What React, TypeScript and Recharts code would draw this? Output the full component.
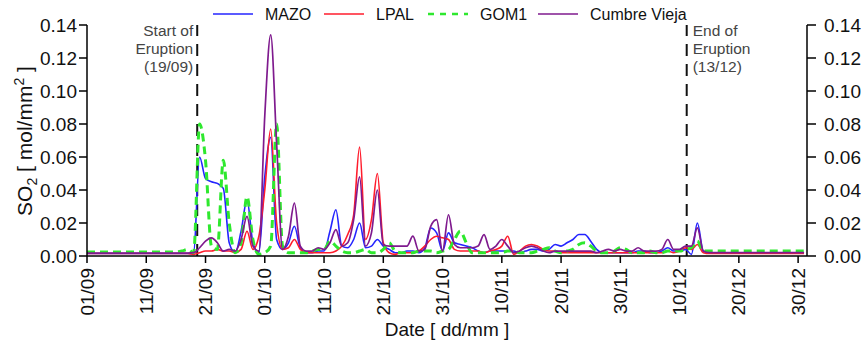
import { LineChart, Line, XAxis, YAxis, ReferenceLine } from "recharts";

// daily values, index 0 = 01/09
const MAZO = [
  0.0015, 0.0015, 0.0015, 0.0015, 0.0015, 0.0015, 0.0015, 0.0015, 0.0015, 0.0015,
  0.0015, 0.0015, 0.0015, 0.0015, 0.0015, 0.0015, 0.0015, 0.0015, 0.002, 0.06,
  0.047, 0.045, 0.044, 0.041, 0.008, 0.002, 0.015, 0.034, 0.008, 0.002,
  0.048, 0.072, 0.01, 0.004, 0.008, 0.018, 0.005, 0.002, 0.002, 0.003,
  0.003, 0.015, 0.028, 0.006, 0.005, 0.01, 0.02, 0.005, 0.006, 0.01,
  0.006, 0.004, 0.002, 0.002, 0.003, 0.003, 0.002, 0.005, 0.017, 0.014,
  0.003, 0.014, 0.008, 0.007, 0.006, 0.005, 0.003, 0.002, 0.003, 0.003,
  0.003, 0.003, 0.003, 0.002, 0.003, 0.004, 0.004, 0.003, 0.004, 0.007,
  0.006, 0.008, 0.01, 0.013, 0.013, 0.009, 0.004, 0.002, 0.002, 0.002,
  0.002, 0.002, 0.002, 0.003, 0.003, 0.002, 0.002, 0.003, 0.005, 0.003,
  0.003, 0.004, 0.001, 0.02, 0.003, 0.002, 0.002, 0.002, 0.002, 0.002,
  0.002, 0.002, 0.002, 0.002, 0.002, 0.002, 0.002, 0.002, 0.002, 0.002,
  0.002, 0.002,
];

const LPAL = [
  0.0015, 0.0015, 0.0015, 0.0015, 0.0015, 0.0015, 0.0015, 0.0015, 0.0015, 0.0015,
  0.0015, 0.0015, 0.0015, 0.0015, 0.0015, 0.0015, 0.0015, 0.0015, 0.001, 0.002,
  0.003, 0.003, 0.004, 0.003, 0.003, 0.002, 0.004, 0.015, 0.004, 0.012,
  0.04, 0.077, 0.02, 0.004, 0.005, 0.01, 0.004, 0.002, 0.002, 0.002,
  0.002, 0.002, 0.003, 0.006, 0.013, 0.025, 0.066, 0.01, 0.022, 0.05,
  0.008, 0.002, 0.001, 0.002, 0.002, 0.002, 0.003, 0.006, 0.01, 0.012,
  0.011, 0.01, 0.004, 0.003, 0.003, 0.003, 0.003, 0.002, 0.003, 0.004,
  0.006, 0.012, 0.001, 0.003, 0.006, 0.007, 0.006, 0.004, 0.003, 0.003,
  0.002, 0.002, 0.002, 0.002, 0.002, 0.002, 0.002, 0.002, 0.002, 0.002,
  0.002, 0.002, 0.002, 0.002, 0.002, 0.002, 0.002, 0.002, 0.003, 0.002,
  0.003, 0.005, 0.004, 0.007, 0.002, 0.0015, 0.0015, 0.0015, 0.0015, 0.0015,
  0.0015, 0.0015, 0.0015, 0.0015, 0.0015, 0.0015, 0.0015, 0.0015, 0.0015, 0.0015,
  0.0015, 0.0015,
];

const GOM1 = [
  0.0025, 0.0025, 0.0025, 0.0025, 0.0025, 0.0025, 0.0025, 0.0025, 0.0025, 0.0025,
  0.0025, 0.0025, 0.0025, 0.0025, 0.0025, 0.0025, 0.003, 0.004, 0.002, 0.08,
  0.058, 0.006, 0.004, 0.058, 0.02, 0.002, 0.008, 0.036, 0.01, 0.001,
  0.002, 0.006, 0.08, 0.006, 0.002, 0.002, 0.002, 0.002, 0.003, 0.004,
  0.004, 0.009, 0.006, 0.003, 0.002, 0.002, 0.003, 0.004, 0.002, 0.002,
  0.004, 0.008, 0.003, 0.002, 0.002, 0.002, 0.003, 0.003, 0.003, 0.002,
  0.003, 0.004, 0.01, 0.015, 0.008, 0.002, 0.002, 0.002, 0.002, 0.002,
  0.002, 0.003, 0.003, 0.002, 0.002, 0.002, 0.003, 0.004, 0.005, 0.003,
  0.002, 0.003, 0.004, 0.007, 0.008, 0.006, 0.003, 0.002, 0.002, 0.003,
  0.005, 0.004, 0.002, 0.002, 0.002, 0.003, 0.002, 0.002, 0.003, 0.003,
  0.003, 0.004, 0.005, 0.009, 0.003, 0.003, 0.003, 0.003, 0.003, 0.003,
  0.003, 0.003, 0.003, 0.003, 0.003, 0.003, 0.003, 0.003, 0.003, 0.003,
  0.003, 0.003,
];

const CUMBRE_VIEJA = [
  0.0018, 0.0018, 0.0018, 0.0018, 0.0018, 0.0018, 0.0018, 0.0018, 0.0018, 0.0018,
  0.0018, 0.0018, 0.0018, 0.0018, 0.0018, 0.0018, 0.0018, 0.0018, 0.002, 0.005,
  0.009, 0.011, 0.008, 0.003, 0.004, 0.003, 0.01, 0.024, 0.006, 0.003,
  0.085, 0.134, 0.068, 0.004, 0.012, 0.032, 0.006, 0.003, 0.003, 0.005,
  0.004, 0.008, 0.016, 0.006, 0.008, 0.022, 0.048, 0.006, 0.014, 0.04,
  0.007, 0.006, 0.006, 0.006, 0.006, 0.012, 0.003, 0.004, 0.018, 0.022,
  0.003, 0.025, 0.007, 0.005, 0.005, 0.005, 0.006, 0.013, 0.004, 0.006,
  0.01, 0.006, 0.002, 0.003, 0.005, 0.006, 0.005, 0.003, 0.002, 0.003,
  0.003, 0.003, 0.003, 0.003, 0.003, 0.003, 0.002, 0.003, 0.004, 0.003,
  0.004, 0.003, 0.003, 0.005, 0.003, 0.003, 0.003, 0.004, 0.01, 0.004,
  0.004, 0.006, 0.006, 0.017, 0.003, 0.002, 0.002, 0.002, 0.002, 0.002,
  0.002, 0.002, 0.002, 0.002, 0.002, 0.002, 0.002, 0.002, 0.002, 0.002,
  0.002, 0.002,
];

const TICK_DAYS = [0, 10, 20, 30, 40, 50, 60, 70, 80, 90, 100, 110, 120];
const TICK_LABELS = ["01/09", "11/09", "21/09", "01/10", "11/10", "21/10", "31/10", "10/11", "20/11", "30/11", "10/12", "20/12", "30/12"];
const Y_TICKS = [0, 0.02, 0.04, 0.06, 0.08, 0.1, 0.12, 0.14];

const START_DAY = 18.6;
const END_DAY = 101.2;
const START_TEXT = ["Start of", "Eruption", "(19/09)"];
const END_TEXT = ["End of", "Eruption", "(13/12)"];

// both y axes share the same 0..0.14 scale, Cumbre Vieja is bound to the right one
const SERIES = [
  { key: "MAZO", name: "MAZO", values: MAZO, color: "#2424ff", width: 1.6, dash: undefined as string | undefined, axis: "left" },
  { key: "LPAL", name: "LPAL", values: LPAL, color: "#ff1c2c", width: 1.6, dash: undefined, axis: "left" },
  { key: "GOM1", name: "GOM1", values: GOM1, color: "#2ee82e", width: 3, dash: "8 5", axis: "left" },
  { key: "CV", name: "Cumbre Vieja", values: CUMBRE_VIEJA, color: "#7f1a8e", width: 1.7, dash: undefined, axis: "right" },
];

const FONT = "'Liberation Sans', Arial, sans-serif";

const data = MAZO.map((_, i) => {
  const row: any = { day: i };
  SERIES.forEach((s) => (row[s.key] = s.values[i]));
  return row;
});

const DateTick = ({ x, y, payload }: any) => {
  const idx = TICK_DAYS.indexOf(payload.value);
  return (
    <text
      x={x}
      y={y}
      transform={`rotate(-90 ${x} ${y})`}
      textAnchor="end"
      dx={-3}
      dy="0.35em"
      fontSize={19}
      fontFamily={FONT}
      fill="#111"
    >
      {TICK_LABELS[idx]}
    </text>
  );
};

const YLabel = () => (
  <text transform="translate(32,141) rotate(-90)" textAnchor="middle" fontSize={21} fontFamily={FONT} fill="#111">
    SO<tspan dy={5} fontSize={14}>2</tspan>
    <tspan dy={-5}> [ mol/mm</tspan>
    <tspan dy={-8} fontSize={14}>2</tspan>
    <tspan dy={8}> ]</tspan>
  </text>
);

const eventLabel = (lines: string[], side: "left" | "right") => (props: any) => {
  const x = props.viewBox.x;
  const tx = side === "left" ? x - 4 : x + 6;
  return (
    <text textAnchor={side === "left" ? "end" : "start"} fontSize={15.5} fontFamily={FONT} fill="#444">
      {lines.map((l, i) => (
        <tspan key={l} x={tx} y={36 + i * 18}>
          {l}
        </tspan>
      ))}
    </text>
  );
};

const LEGEND_X = [213, 324, 428, 538];

function TopLegend() {
  return (
    <svg width={866} height={30} style={{ position: "absolute", left: 0, top: 0 }}>
      {SERIES.map((s, i) => (
        <g key={s.key}>
          <line x1={LEGEND_X[i]} x2={LEGEND_X[i] + 40} y1={14} y2={14} stroke={s.color} strokeWidth={s.dash ? 2.5 : 1.5} strokeDasharray={s.dash ? "6 6" : undefined} />
          <text x={LEGEND_X[i] + 52} y={20} fontSize={16} fontFamily={FONT} fill="#111">
            {s.name}
          </text>
        </g>
      ))}
    </svg>
  );
}

export default function App() {
  const axisStyle = { stroke: "#000", strokeWidth: 1.5 };
  const tickStyle = { fontSize: 19, fontFamily: FONT, fill: "#111" };
  return (
    <div style={{ position: "fixed", left: 0, top: 0, width: 866, height: 348, background: "#fff" }}>
      <LineChart width={866} height={348} data={data} margin={{ top: 25, right: 0, bottom: 10, left: 0 }}>
        <XAxis
          dataKey="day"
          type="number"
          domain={[0, 121.5]}
          ticks={TICK_DAYS}
          interval={0}
          tick={<DateTick />}
          tickSize={7}
          height={82}
          axisLine={axisStyle}
          tickLine={axisStyle}
          label={{ value: "Date [ dd/mm ]", position: "insideBottom", offset: 2, fontSize: 19, fontFamily: FONT, fill: "#111" }}
        />
        <YAxis
          yAxisId="left"
          domain={[0, 0.14]}
          ticks={Y_TICKS}
          interval={0}
          width={87}
          tickSize={8}
          tickFormatter={(v: number) => v.toFixed(2)}
          tick={tickStyle}
          axisLine={axisStyle}
          tickLine={axisStyle}
          label={<YLabel />}
        />
        <YAxis
          yAxisId="right"
          orientation="right"
          domain={[0, 0.14]}
          ticks={Y_TICKS}
          interval={0}
          width={59}
          tickSize={9}
          tickMargin={8}
          tickFormatter={(v: number) => v.toFixed(2)}
          tick={tickStyle}
          axisLine={axisStyle}
          tickLine={axisStyle}
        />
        <ReferenceLine yAxisId="left" x={START_DAY} stroke="#111" strokeWidth={2} strokeDasharray="12 8" label={{ content: eventLabel(START_TEXT, "left") }} />
        <ReferenceLine yAxisId="left" x={END_DAY} stroke="#111" strokeWidth={2} strokeDasharray="12 8" label={{ content: eventLabel(END_TEXT, "right") }} />
        {SERIES.map((s) => (
          <Line
            key={s.key}
            yAxisId={s.axis}
            type="monotone"
            dataKey={s.key}
            name={s.name}
            stroke={s.color}
            strokeWidth={s.width}
            strokeDasharray={s.dash}
            dot={false}
            isAnimationActive={false}
          />
        ))}
      </LineChart>
      <TopLegend />
    </div>
  );
}
